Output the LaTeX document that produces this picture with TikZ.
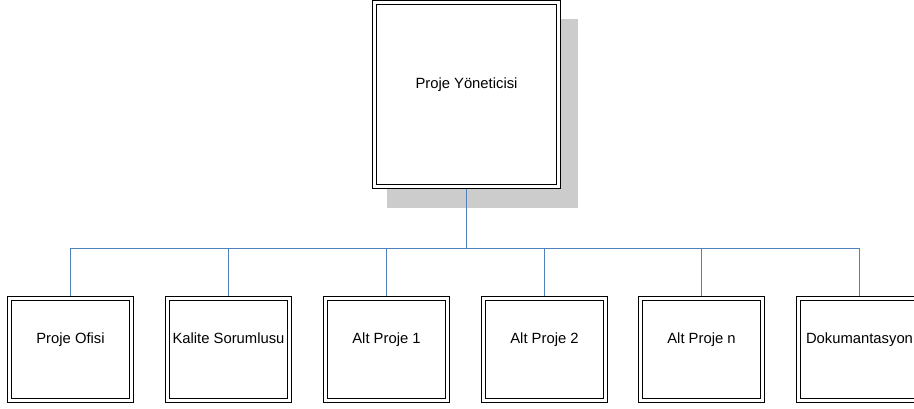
\documentclass[tikz,border=0pt]{standalone}
\usepackage{fontspec}
\setmainfont{Liberation Sans}
\definecolor{linkblue}{RGB}{79,129,189}
\definecolor{shadowgray}{RGB}{204,204,204}
\begin{document}
\begin{tikzpicture}[x=1pt,y=-1pt,
  orgbox/.style={draw=black, line width=1.1pt, double=white, double distance=2.8pt,
    fill=white, minimum width=122pt, minimum height=102pt, inner sep=0pt,
    outer sep=2.5pt, text depth=23pt, font=\fontsize{14.8}{17}\selectfont},
  topbox/.style={orgbox, minimum width=184pt, minimum height=184pt},
  link/.style={draw=linkblue, line width=1.2pt}]
\useasboundingbox (0,0) rectangle (914,408);

% drop shadow behind the manager box
\fill[shadowgray] (387,19) rectangle (578,208);

\node[topbox] (pm) at (466.5,94.5) {Proje Yöneticisi};

\node[orgbox] (b1) at (70.5,349.5) {Proje Ofisi};
\node[orgbox] (b2) at (228.5,349.5) {Kalite Sorumlusu};
\node[orgbox] (b3) at (386.5,349.5) {Alt Proje 1};
\node[orgbox] (b4) at (544.5,349.5) {Alt Proje 2};
\node[orgbox] (b5) at (701.5,349.5) {Alt Proje n};
\node[orgbox] (b6) at (859.5,349.5) {Dokumantasyon};

% tree connectors through a common horizontal bus
\coordinate (bus) at (466.5,248.5);
\draw[link] (pm.south) -- (bus);
\foreach \b in {b1,b2,b3,b4,b5,b6}
  \draw[link] (bus) -| (\b.north);
\end{tikzpicture}
\end{document}
